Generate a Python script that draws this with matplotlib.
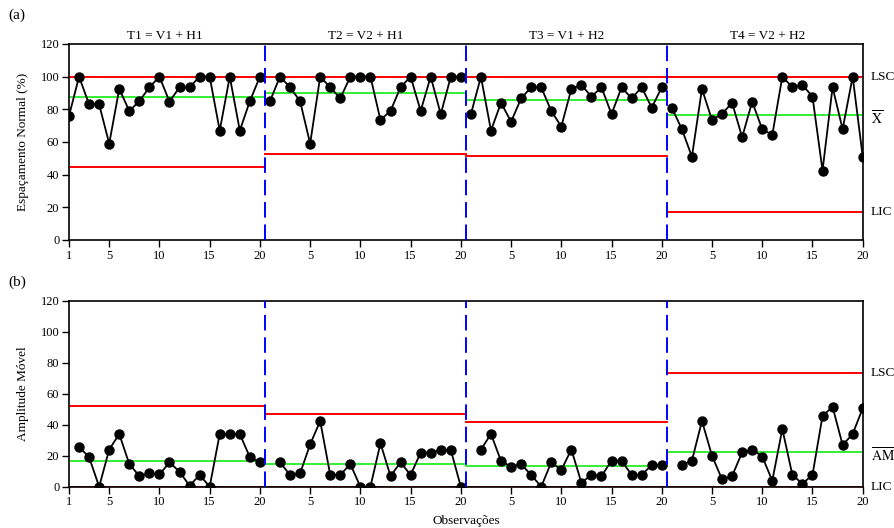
import numpy as np
import matplotlib
matplotlib.use("Agg")
import matplotlib.pyplot as plt

plt.rcParams['font.family'] = ['Liberation Serif', 'DejaVu Serif']
plt.rcParams['mathtext.fontset'] = 'stix'

# ---- data ----
titles = ["T1 = V1 + H1", "T2 = V2 + H1", "T3 = V1 + H2", "T4 = V2 + H2"]

esp_t1 = [76, 100, 83, 83, 59, 92.5, 79, 85, 93.5, 100, 84.7, 93.5, 93.5, 100, 100, 67, 100, 67, 85, 100]
esp_t2 = [85, 100, 93.5, 85, 59, 100, 93.5, 86.7, 100, 100, 100, 73.5, 79, 93.5, 100, 79, 100, 77, 100, 100]
esp_t3 = [77, 100, 67, 84, 72.4, 86.7, 93.5, 93.5, 79, 69.4, 92.5, 94.9, 87.8, 93.5, 77, 93.5, 86.7, 93.5, 81, 93.5]
esp_t4 = [81, 67.8, 51, 92.5, 73.5, 77.2, 84, 62.9, 84.7, 67.8, 64.3, 100, 93.5, 94.9, 87.8, 42.5, 93.5, 67.8, 100, 51]

am_t1 = [np.nan, 25.8, 19, 0, 24, 34, 14.6, 6.9, 8.6, 7.9, 15.7, 9.7, 0.6, 7.6, 0, 34, 34, 34, 19, 15.7]
am_t2 = [np.nan, 15.7, 7.6, 8.6, 27.3, 42.4, 7.6, 7.6, 14.6, 0, 0, 28, 6.9, 15.7, 7.6, 22, 22, 23.7, 23.7, 0]
am_t3 = [np.nan, 24, 34, 16.6, 12.9, 14.6, 7.6, 0, 15.7, 10.8, 24, 2.6, 7.6, 6.9, 16.8, 16.8, 7.6, 7.6, 14, 14]
am_t4 = [np.nan, 14, 16.8, 42.4, 20, 4.7, 6.9, 22.2, 24, 19.4, 3.9, 37.2, 7.6, 1.9, 7.6, 45.6, 51.6, 26.9, 34, 50.6]

lsc_esp = [100, 100, 100, 100]
cl_esp = [87.4, 90.2, 85.5, 76.7]
lic_esp = [44.9, 52.7, 51.6, 17]

lsc_am = [52, 46.9, 42, 73.5]
cl_am = [16.4, 14.4, 13.5, 22.4]
lic_am = [0, 0, 0, 0]

esp = [esp_t1, esp_t2, esp_t3, esp_t4]
am = [am_t1, am_t2, am_t3, am_t4]

tick_pos = [1] + list(range(5, 81, 5))
tick_lab = ["1"] + [str(((p - 1) % 20) + 1) for p in range(5, 81, 5)]

fig = plt.figure(figsize=(8.94, 5.28), dpi=100)
ax1 = fig.add_axes([0.0772, 0.5455, 0.8878, 0.3712])
ax2 = fig.add_axes([0.0772, 0.0782, 0.8878, 0.3523])

def draw(ax, data, lsc, cl, lic):
    for k in range(4):
        x = np.arange(1, 21) + 20 * k
        x0 = max(1, 20 * k + 0.5)
        x1 = min(80, 20 * k + 20.5)
        ax.plot([x0, x1], [lsc[k], lsc[k]], color='#ff0000', lw=1.4, zorder=2)
        ax.plot([x0, x1], [cl[k], cl[k]], color='#33ee33', lw=1.4, zorder=2)
        ax.plot([x0, x1], [lic[k], lic[k]], color='#ff0000', lw=1.4, zorder=2)
        ax.plot(x, data[k], color='black', lw=1.3, marker='o', ms=6.5, zorder=3)
    for b in [20.5, 40.5, 60.5]:
        ax.axvline(b, color='#0000ff', lw=1.4, ls=(0, (8, 3.5)), zorder=4)
    ax.set_xlim(1, 80)
    ax.set_ylim(0, 120)
    ax.set_yticks(range(0, 121, 20))
    ax.set_xticks(tick_pos)
    ax.set_xticklabels(tick_lab)
    ax.tick_params(direction='out', length=5, width=1, labelsize=9, pad=2)
    for s in ax.spines.values():
        s.set_linewidth(1.2)

draw(ax1, esp, lsc_esp, cl_esp, lic_esp)
draw(ax2, am, lsc_am, cl_am, lic_am)

for k in range(4):
    ax1.text(10.5 + 20 * k, 121.5, titles[k], ha='center', va='bottom', fontsize=9.5)

ax1.set_ylabel("Espaçamento Normal (%)", fontsize=9.5, labelpad=8)
ax2.set_ylabel("Amplitude Móvel", fontsize=9.5, labelpad=8)
ax2.set_xlabel("Observações", fontsize=9.5, labelpad=5)

tx = 80.8
ax1.text(tx, lsc_esp[3], "LSC", va='center', ha='left', fontsize=9.5)
ax1.text(tx, cl_esp[3] - 2, r"$\overline{\mathrm{X}}$", va='center', ha='left', fontsize=10)
ax1.text(tx, lic_esp[3], "LIC", va='center', ha='left', fontsize=9.5)
ax2.text(tx, lsc_am[3], "LSC", va='center', ha='left', fontsize=9.5)
ax2.text(tx, cl_am[3] - 2, r"$\overline{\mathrm{AM}}$", va='center', ha='left', fontsize=10)
ax2.text(tx, lic_am[3], "LIC", va='center', ha='left', fontsize=9.5)

fig.text(0.009, 0.972, "(a)", fontsize=11, va='center', ha='left')
fig.text(0.009, 0.465, "(b)", fontsize=11, va='center', ha='left')

fig.savefig("out.png", dpi=100)
